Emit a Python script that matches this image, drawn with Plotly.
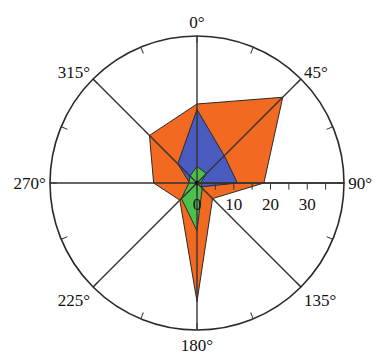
import plotly.graph_objects as go

# Compass directions (degrees, clockwise from north)
directions = [0, 45, 90, 135, 180, 225, 270, 315]
direction_labels = ["0°", "45°", "90°", "135°", "180°", "225°", "270°", "315°"]

# Series values per direction
orange_vals = [21.5, 33.0, 18.2, 6.0, 32.3, 6.6, 11.8, 18.3]
blue_vals = [20.0, 10.5, 11.0, 1.5, 1.5, 1.5, 2.0, 7.4]
green_vals = [4.5, 3.6, 1.0, 2.0, 13.0, 6.0, 2.2, 2.7]

# Radial scale
r_max = 40
r_ticks = [0, 5, 10, 15, 20, 25, 30, 35]
r_tick_labels = ["0", "", "10", "", "20", "", "30", ""]

# Angular minor ticks every 22.5 degrees
theta_ticks = [i * 22.5 for i in range(16)]

W, H = 377, 354

fig = go.Figure()


def closed(vals):
    return vals + [vals[0]]


theta_closed = directions + [directions[0]]

for vals, color in [
    (orange_vals, "#F26A22"),
    (blue_vals, "#4B5CC0"),
    (green_vals, "#4DBF4D"),
]:
    fig.add_trace(go.Scatterpolar(
        r=closed(vals), theta=theta_closed, mode="lines",
        fill="toself", fillcolor=color,
        line=dict(color="#2a2a2a", width=1),
        hoverinfo="skip", showlegend=False,
    ))

# Spokes drawn over the filled areas
for d in directions:
    fig.add_trace(go.Scatterpolar(
        r=[0, r_max], theta=[d, d], mode="lines",
        line=dict(color="#333333", width=1.4),
        hoverinfo="skip", showlegend=False,
    ))

# Centre point
fig.add_trace(go.Scatterpolar(
    r=[0], theta=[0], mode="markers",
    marker=dict(color="black", size=4),
    hoverinfo="skip", showlegend=False,
))

tick_text = []
for t in theta_ticks:
    if t in directions:
        tick_text.append(direction_labels[directions.index(t)])
    else:
        tick_text.append("")

font = dict(family="Liberation Serif, Times New Roman, serif", size=17, color="#111")

fig.update_layout(
    width=W, height=H,
    margin=dict(l=0, r=0, t=0, b=0),
    paper_bgcolor="white",
    showlegend=False,
    polar=dict(
        domain=dict(x=[50 / W, 344 / W], y=[21 / H, 321 / H]),
        bgcolor="white",
        angularaxis=dict(
            direction="clockwise", rotation=90,
            tickmode="array", tickvals=theta_ticks, ticktext=tick_text,
            ticks="inside", ticklen=6, tickcolor="#333", tickwidth=1,
            showgrid=False,
            showline=True, linecolor="#2a2a2a", linewidth=1.6,
            tickfont=font,
        ),
        radialaxis=dict(
            range=[0, r_max], angle=0, side="clockwise",
            tickmode="array", tickvals=r_ticks, ticktext=r_tick_labels,
            ticks="outside", ticklen=6, tickcolor="#333", tickwidth=1,
            showgrid=False,
            showline=True, linecolor="#333333", linewidth=1.4,
            tickfont=font, tickangle=0,
        ),
    ),
)

fig.write_html("out.html")
